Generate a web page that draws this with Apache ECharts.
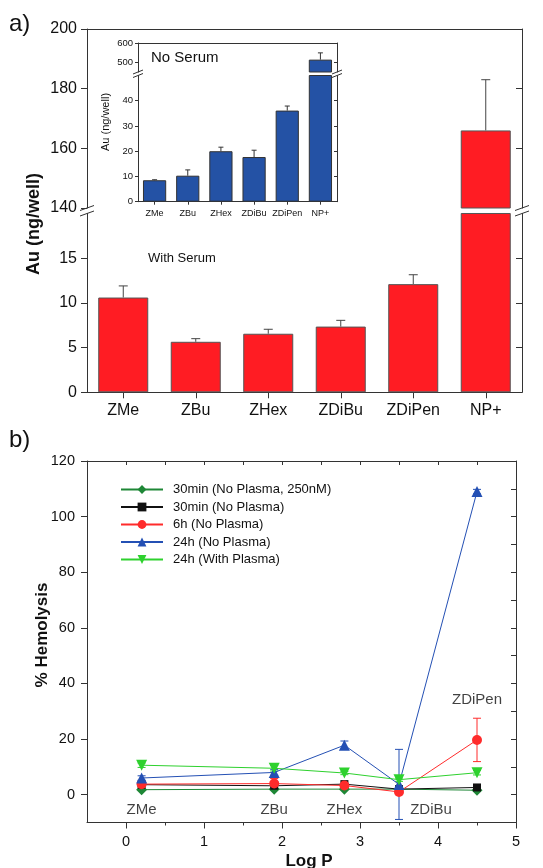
<!DOCTYPE html>
<html>
<head>
<meta charset="utf-8">
<style>
  html, body { margin: 0; padding: 0; background: #fff; }
  #main { width: 543px; height: 868px; }
</style>
<script src="https://cdn.jsdelivr.net/npm/echarts@6.0.0/dist/echarts.min.js"></script>
</head>
<body>
<div id="main"></div>
<script>
// a) Au uptake per compound
const compounds = ["ZMe", "ZBu", "ZHex", "ZDiBu", "ZDiPen", "NP+"];
const withSerum = [10.6, 5.65, 6.55, 7.35, 12.1, 166];
const withSerumErr = [1.3, 0.35, 0.5, 0.7, 1.05, 17];
// inset: no serum
const noSerum = [8.5, 10.3, 20.0, 17.7, 36.1, 514];
const noSerumErr = [0.2, 2.3, 1.6, 2.7, 1.8, 35];

// b) hemolysis vs log P
const logP = [0.2, 1.9, 2.8, 3.5, 4.5];
const hemoNames = ["30min (No Plasma, 250nM)", "30min (No Plasma)", "6h (No Plasma)", "24h (No Plasma)", "24h (With Plasma)"];
const hemo30nM = [1.8, 2.0, 2.0, 2.0, 1.6];
const hemo30 = [3.6, 3.2, 3.8, 2.0, 2.6];
const hemo6h = [3.8, 4.0, 3.3, 1.0, 19.7];
const hemo6hErr = [0.6, 1.8, 0.6, 0.6, 7.8];
const hemo24 = [6.0, 8.0, 17.8, 3.7, 109];
const hemo24Err = [0.8, 1.0, 1.5, 12.6, 0.8];
const hemo24p = [10.6, 9.5, 7.8, 5.4, 7.9];
const hemo24pErr = [0.8, 1.0, 0.6, 0.6, 0.8];

// tick values
const mainUpperTicks = [140, 160, 180, 200];
const mainLowerTicks = [0, 5, 10, 15];
const insetUpperTicks = [500, 600];
const insetLowerTicks = [0, 10, 20, 30, 40];
const hemoYTicks = [0, 20, 40, 60, 80, 100, 120];
const hemoYMinor = [0, 10, 20, 30, 40, 50, 60, 70, 80, 90, 100, 110];
const logPTicks = [0, 1, 2, 3, 4, 5];
const logPHalf = [0.5, 1.5, 2.5, 3.5, 4.5];
const logPTop = [0, 0.5, 1, 1.5, 2, 2.5, 3, 3.5, 4, 4.5];

const axisC = "#333";
const txtC = "#111";
const font = "'Liberation Sans', Arial, sans-serif";

let chart = echarts.init(document.getElementById("main"));

// error bar drawn through the axes (value +/- err)
function errBar(color, capW, both) {
  return function (params, api) {
    let x = api.value(0), v = api.value(1), e = api.value(2);
    let top = api.coord([x, v + e]);
    let bot = api.coord([x, both ? v - e : v]);
    let style = { stroke: color, lineWidth: 1 };
    let kids = [
      { type: "line", shape: { x1: top[0], y1: top[1], x2: bot[0], y2: bot[1] }, style: style },
      { type: "line", shape: { x1: top[0] - capW / 2, y1: top[1], x2: top[0] + capW / 2, y2: top[1] }, style: style },
    ];
    if (both) {
      kids.push({ type: "line", shape: { x1: bot[0] - capW / 2, y1: bot[1], x2: bot[0] + capW / 2, y2: bot[1] }, style: style });
    }
    return { type: "group", children: kids };
  };
}

function catAxis(grid, pos, showLab, fs, margin, tickLen) {
  return {
    gridIndex: grid, type: "category", data: compounds, position: pos,
    axisLine: { show: true, onZero: false, lineStyle: { color: axisC } },
    axisTick: { show: showLab, alignWithLabel: true, interval: 0, length: tickLen, lineStyle: { color: axisC } },
    axisLabel: { show: showLab, interval: 0, color: txtC, fontSize: fs, margin: margin, fontFamily: font },
    splitLine: { show: false },
  };
}

function valAxis(grid, pos, min, max, ticks, labels, inside, tickLen, fs, margin) {
  return {
    gridIndex: grid, type: "value", position: pos, min: min, max: max,
    axisLine: { show: true, onZero: false, lineStyle: { color: axisC } },
    axisTick: { show: true, inside: inside, length: tickLen, customValues: ticks, lineStyle: { color: axisC } },
    axisLabel: labels
      ? { show: true, customValues: labels, color: txtC, fontSize: fs, margin: margin, fontFamily: font }
      : { show: false },
    splitLine: { show: false },
  };
}

// break marks "//" on the axes
function breakMarks(x, y1, y2, w, h) {
  return [y1, y2].map(function (y) {
    return { type: "line", shape: { x1: x - w, y1: y + h, x2: x + w, y2: y - h }, style: { stroke: axisC, lineWidth: 1 } };
  });
}

function hideOthers(arr, i) {
  return arr.map(function (v, j) { return j === i ? v : "-"; });
}

let hemoColors = ["#1e8736", "#111111", "#ff2b2b", "#2450b4", "#2ed12e"];
let hemoSymbols = ["diamond", "rect", "circle", "triangle", "path://M0,0L10,0L5,9Z"];
let hemoSizes = [11, 8, 10, 11, 11];
let hemoData = [hemo30nM, hemo30, hemo6h, hemo24, hemo24p];
let hemoErr = [null, null, hemo6hErr, hemo24Err, hemo24pErr];

let series = [
  // main, upper segment (only NP+)
  {
    type: "bar", xAxisIndex: 0, yAxisIndex: 0, barCategoryGap: "31%",
    itemStyle: { color: "#ff1c23", borderColor: "#555", borderWidth: 1 },
    data: hideOthers(withSerum, 5),
  },
  {
    type: "bar", xAxisIndex: 1, yAxisIndex: 2, barCategoryGap: "31%", clip: true,
    itemStyle: { color: "#ff1c23", borderColor: "#555", borderWidth: 1 },
    data: withSerum,
  },
  {
    type: "custom", xAxisIndex: 0, yAxisIndex: 0, renderItem: errBar("#444", 9, false),
    encode: { x: 0, y: 1 },
    data: [[5, withSerum[5], withSerumErr[5]]],
  },
  {
    type: "custom", xAxisIndex: 1, yAxisIndex: 2, renderItem: errBar("#444", 9, false),
    encode: { x: 0, y: 1 },
    data: withSerum.slice(0, 5).map(function (v, i) { return [i, v, withSerumErr[i]]; }),
  },
  // inset
  {
    type: "bar", xAxisIndex: 2, yAxisIndex: 4, barCategoryGap: "30%",
    itemStyle: { color: "#2452a5", borderColor: "#333", borderWidth: 1 },
    data: hideOthers(noSerum, 5),
  },
  {
    type: "bar", xAxisIndex: 3, yAxisIndex: 6, barCategoryGap: "30%", clip: true,
    itemStyle: { color: "#2452a5", borderColor: "#333", borderWidth: 1 },
    data: noSerum,
  },
  {
    type: "custom", xAxisIndex: 2, yAxisIndex: 4, renderItem: errBar("#333", 5, false),
    encode: { x: 0, y: 1 },
    data: [[5, noSerum[5], noSerumErr[5]]],
  },
  {
    type: "custom", xAxisIndex: 3, yAxisIndex: 6, renderItem: errBar("#333", 5, false),
    encode: { x: 0, y: 1 },
    data: noSerum.slice(0, 5).map(function (v, i) { return [i, v, noSerumErr[i]]; }),
  },
];

hemoNames.forEach(function (name, k) {
  series.push({
    name: name, type: "line", xAxisIndex: 4, yAxisIndex: 8,
    symbol: hemoSymbols[k], symbolSize: hemoSizes[k],
    lineStyle: { color: hemoColors[k], width: 1 },
    itemStyle: { color: hemoColors[k] },
    data: logP.map(function (x, i) { return [x, hemoData[k][i]]; }),
  });
  if (hemoErr[k]) {
    series.push({
      type: "custom", xAxisIndex: 4, yAxisIndex: 8, renderItem: errBar(hemoColors[k], 8, true),
      encode: { x: 0, y: 1 },
      data: logP.map(function (x, i) { return [x, hemoData[k][i], hemoErr[k][i]]; }),
    });
  }
});

// compound names in panel b
series.push({
  type: "scatter", xAxisIndex: 4, yAxisIndex: 8, symbolSize: 0, silent: true,
  label: { show: true, position: "inside", formatter: "{b}", color: txtC, fontSize: 15, fontFamily: font },
  data: compounds.slice(0, 5).map(function (c, i) {
    if (i === 4) return { name: c, value: [logP[i], 34] };
    if (i === 3) return { name: c, value: [logP[i], -5.6], label: { offset: [32, 0] } };
    return { name: c, value: [logP[i], -5.6] };
  }),
});

let option = {
  animation: false,
  backgroundColor: "#fff",
  textStyle: { fontFamily: font },
  grid: [
    { left: 87, top: 29, width: 435, height: 179, outerBoundsMode: "none" },
    { left: 87, top: 213.5, width: 435, height: 178.8, outerBoundsMode: "none" },
    { left: 138, top: 43, width: 199, height: 29, outerBoundsMode: "none" },
    { left: 138, top: 75.5, width: 199, height: 126.2, outerBoundsMode: "none" },
    { left: 87, top: 461, width: 429, height: 361.5, outerBoundsMode: "none" },
  ],
  xAxis: [
    catAxis(0, "top", false, 16, 10, 6),
    catAxis(1, "bottom", true, 16, 10, 6),
    catAxis(2, "top", false, 9, 7, 3),
    catAxis(3, "bottom", true, 9, 7, 3),
    valAxis(4, "bottom", -0.5, 5, logPTicks, logPTicks, false, 6, 14.5, 12),
    Object.assign(valAxis(4, "bottom", -0.5, 5, logPHalf, null, false, 3), { axisLine: { show: false, onZero: false } }),
    valAxis(4, "top", -0.5, 5, logPTop, null, true, 4),
  ],
  yAxis: [
    valAxis(0, "left", 140, 200, mainUpperTicks, mainUpperTicks, false, 6, 16, 10),
    valAxis(0, "right", 140, 200, [160, 180], null, true, 6),
    valAxis(1, "left", 0, 20, mainLowerTicks, mainLowerTicks, false, 6, 16, 10),
    valAxis(1, "right", 0, 20, [5, 10, 15], null, true, 6),
    valAxis(2, "left", 450, 600, insetUpperTicks, insetUpperTicks, false, 3, 9.5, 5),
    valAxis(2, "right", 450, 600, [500], null, true, 3),
    valAxis(3, "left", 0, 50, insetLowerTicks, insetLowerTicks, false, 3, 9.5, 5),
    valAxis(3, "right", 0, 50, [10, 20, 30, 40], null, true, 3),
    valAxis(4, "left", -10, 120, hemoYTicks, hemoYTicks, false, 6, 14.5, 12),
    valAxis(4, "right", -10, 120, hemoYMinor, null, true, 5),
  ],
  legend: {
    orient: "vertical", left: 120, top: 483, padding: 0,
    itemWidth: 42, itemHeight: 11, itemGap: 4.5,
    data: hemoNames,
    textStyle: { fontSize: 13, color: txtC, fontFamily: font, padding: [0, 0, 0, 5] },
  },
  series: series,
  graphic: [
    { type: "text", x: 9, y: 12, style: { text: "a)", fontSize: 24, fill: txtC, fontFamily: font } },
    { type: "text", x: 9, y: 428, style: { text: "b)", fontSize: 24, fill: txtC, fontFamily: font } },
    {
      type: "text", x: 34, y: 224, rotation: Math.PI / 2,
      style: { text: "Au (ng/well)", fontSize: 18, fontWeight: "bold", fill: txtC, fontFamily: font, align: "center", verticalAlign: "middle" },
    },
    {
      type: "text", x: 106, y: 122, rotation: Math.PI / 2,
      style: { text: "Au (ng/well)", fontSize: 11, fill: txtC, fontFamily: font, align: "center", verticalAlign: "middle" },
    },
    { type: "text", x: 151, y: 58, style: { text: "No Serum", fontSize: 15, fill: txtC, fontFamily: font, verticalAlign: "middle" } },
    { type: "text", x: 148, y: 258, style: { text: "With Serum", fontSize: 13, fill: txtC, fontFamily: font, verticalAlign: "middle" } },
    {
      type: "text", x: 42, y: 635, rotation: Math.PI / 2,
      style: { text: "% Hemolysis", fontSize: 17, fontWeight: "bold", fill: txtC, fontFamily: font, align: "center", verticalAlign: "middle" },
    },
    { type: "text", x: 309, y: 853, style: { text: "Log P", fontSize: 17, fontWeight: "bold", fill: txtC, fontFamily: font, align: "center", verticalAlign: "top" } },
  ]
    .concat(breakMarks(87, 208, 213.5, 7, 2.5))
    .concat(breakMarks(522, 208, 213.5, 7, 2.5))
    .concat(breakMarks(138, 72, 75.5, 5, 2))
    .concat(breakMarks(337, 72, 75.5, 5, 2)),
};

chart.setOption(option);
</script>
</body>
</html>
